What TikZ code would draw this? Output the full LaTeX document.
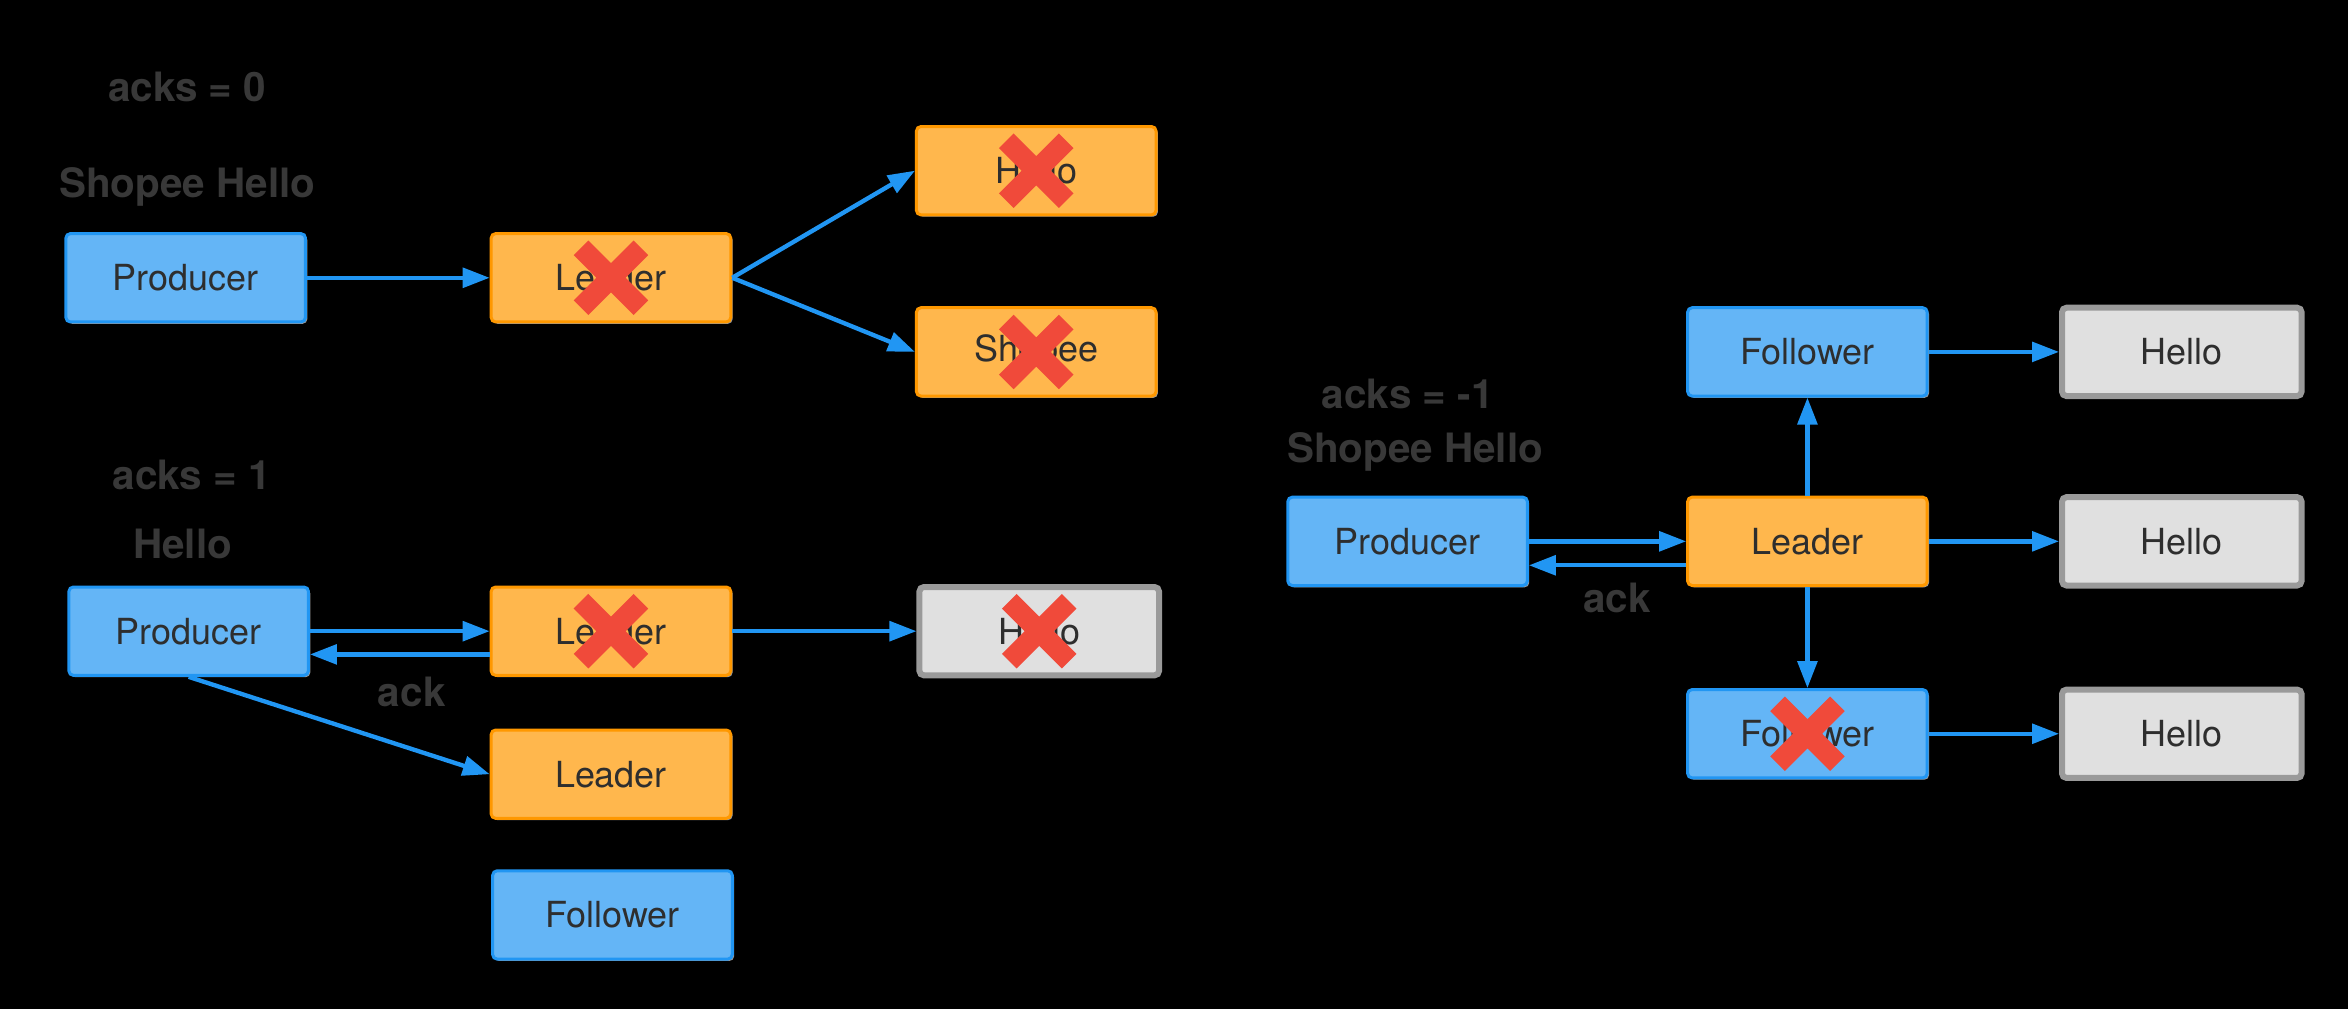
\documentclass[tikz,border=0pt]{standalone}
\usepackage{fontspec}
\setmainfont{TeX Gyre Heros}
\usetikzlibrary{arrows.meta,shadows}

\definecolor{bluefill}{HTML}{64B5F6}
\definecolor{blueline}{HTML}{2196F3}
\definecolor{orangefill}{HTML}{FFB74D}
\definecolor{orangeline}{HTML}{FF9800}
\definecolor{greyfill}{HTML}{E0E0E0}
\definecolor{greyline}{HTML}{9A9A9A}
\definecolor{crossred}{HTML}{F04A3A}
\definecolor{labeltext}{HTML}{383838}
\definecolor{boxtext}{HTML}{2E2E2E}

\tikzset{
  box/.style={rounded corners=1.5pt, line width=1pt, minimum width=80pt,
    minimum height=29.5pt, inner sep=0pt, text=boxtext,
    font=\fontsize{12}{14}\selectfont,
    drop shadow={shadow xshift=0.6pt,shadow yshift=-0.6pt,fill=gray!80,opacity=1}},
  bluebox/.style={box, draw=blueline, fill=bluefill},
  orangebox/.style={box, draw=orangeline, fill=orangefill},
  greybox/.style={box, draw=greyline, fill=greyfill, line width=2pt},
  lbl/.style={text=labeltext, font=\fontsize{13.5}{16}\selectfont\bfseries},
  flow/.style={draw=blueline, line width=1.45pt, -{Triangle[length=9pt,width=6.5pt]}},
  crossline/.style={draw=crossred, line width=6.9pt},
}

\newcommand{\crossout}[1]{%
  \begin{scope}[shift={(#1.center)}]
    \draw[crossline] (-20,-20) -- (20,20) (-20,20) -- (20,-20);
  \end{scope}}

\begin{document}
\begin{tikzpicture}[x=0.5pt,y=-0.5pt]
\fill[black] (0,0) rectangle (1568,674);
% acks = 0
\node[lbl] (acksA) at (125,58) {acks = 0};
\node[lbl] (msgA) at (125,125) {Shopee Hello};
\node[bluebox] (prodA) at (124,185.5) {Producer};
\node[orangebox] (leadA) at (408,185.5) {Leader};
\node[orangebox] (replA) at (692,114) {Hello};
\node[orangebox] (replB) at (692,235) {Shopee};
\draw[flow] (prodA) -- (leadA);
\draw[flow] (leadA.east) -- (replA.west);
\draw[flow] (leadA.east) -- (replB.west);
\crossout{leadA}
\crossout{replA}
\crossout{replB}
% acks = 1
\node[lbl] (acksB) at (128,317) {acks = 1};
\node[lbl] (msgB) at (122,363) {Hello};
\node[bluebox] (prodB) at (126,421.5) {Producer};
\node[orangebox] (leadB) at (408,421.5) {Leader};
\node[greybox] (replC) at (694,421.5) {Hello};
\node[orangebox] (leadC) at (408,517) {Leader};
\node[bluebox] (follA) at (409,611) {Follower};
\draw[flow] (prodB.east) -- (leadB.west);
\draw[flow] ([yshift=-7.75pt]leadB.west) -- ([yshift=-7.75pt]prodB.east);
\node[lbl] (ackB) at (275,462) {ack};
\draw[flow] (leadB) -- (replC);
\draw[flow] (prodB.south) -- (leadC.west);
\crossout{leadB}
\crossout{replC}
% acks = -1
\node[lbl] (acksC) at (940,263) {acks = -1};
\node[lbl] (msgC) at (945,302) {Shopee Hello};
\node[bluebox] (prodC) at (940,361.5) {Producer};
\node[orangebox] (leadD) at (1207,361.5) {Leader};
\node[bluebox] (follB) at (1207,235) {Follower};
\node[bluebox] (follC) at (1207,490) {Follower};
\node[greybox] (replD) at (1457,235) {Hello};
\node[greybox] (replE) at (1457,361.5) {Hello};
\node[greybox] (replF) at (1457,490) {Hello};
\draw[flow] (prodC) -- (leadD);
\draw[flow] ([yshift=-8pt]leadD.west) -- ([yshift=-8pt]prodC.east);
\node[lbl] (ackC) at (1080,399) {ack};
\draw[flow] (leadD) -- (follB);
\draw[flow] (leadD) -- (follC);
\draw[flow] (follB) -- (replD);
\draw[flow] (leadD) -- (replE);
\draw[flow] (follC) -- (replF);
\crossout{follC}
\end{tikzpicture}
\end{document}
